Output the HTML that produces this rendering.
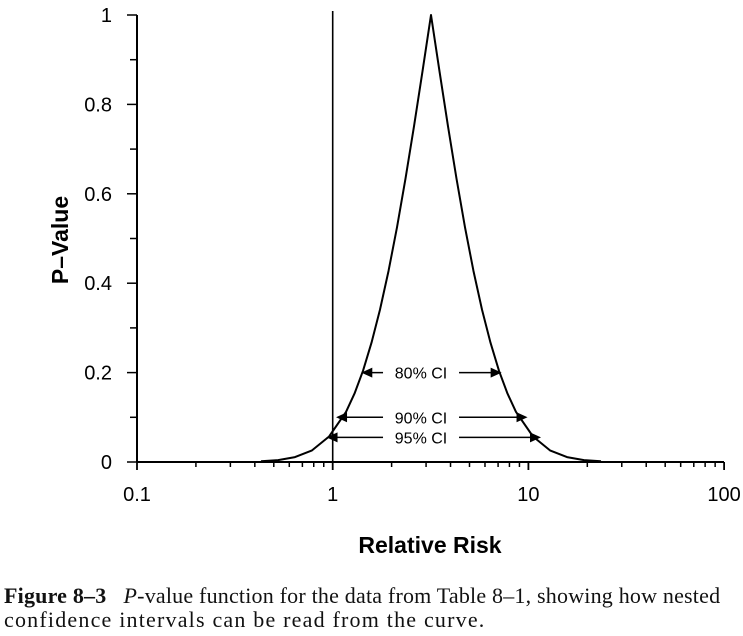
<!DOCTYPE html>
<html><head><meta charset="utf-8"><style>
body{margin:0;background:#fff;width:743px;height:636px;overflow:hidden}
svg{position:absolute;left:0;top:0}
.cap{position:absolute;left:4px;top:584px;width:740px;font-family:"Liberation Serif",serif;font-size:22px;line-height:24px;color:#111;white-space:nowrap}
.l1{letter-spacing:0.2px}
.l2{letter-spacing:1.2px}
</style></head><body>
<svg width="743" height="580" font-family="Liberation Sans, sans-serif">
<g id="axes"></g><g id="marks"></g>
</svg>
<div class="cap"><span class="l1"><b>Figure 8–3</b>&nbsp;&nbsp; <i>P</i>-value function for the data from Table 8–1, showing how nested</span><br><span class="l2">confidence intervals can be read from the curve.</span></div>
<script>
const rrValues=[0.430,0.526,0.642,0.784,0.958,1.170,1.293,1.429,1.579,1.745,1.929,2.131,2.356,2.603,2.877,3.18,3.515,3.883,4.292,4.743,5.242,5.794,6.403,7.077,7.821,8.644,10.56,12.90,15.75,19.24,23.50];
const pValues=[0.0015,0.0043,0.011,0.026,0.057,0.112,0.153,0.204,0.267,0.341,0.427,0.525,0.634,0.751,0.874,1,0.874,0.751,0.634,0.525,0.427,0.341,0.267,0.204,0.153,0.112,0.057,0.026,0.011,0.0043,0.0015];
const yTicks=[0,0.2,0.4,0.6,0.8,1];
const yTickLabels=["0","0.2","0.4","0.6","0.8","1"];
const xDecades=[0.1,1,10,100];
const xTickLabels=["0.1","1","10","100"];
const ciLabels=["80% CI","90% CI","95% CI"];
const ciP=[0.2,0.1,0.055];
const ciLow=[1.40,1.04,0.93];
const ciHigh=[7.3,9.9,11.6];
const NS="http://www.w3.org/2000/svg";
const X=v=>137+(Math.log10(v)+1)*195.7;
const Y=p=>462-p*447;
function mk(parent,tag,attrs,text){const e=document.createElementNS(NS,tag);for(const k in attrs)e.setAttribute(k,attrs[k]);if(text!==undefined)e.textContent=text;document.getElementById(parent).appendChild(e);return e;}
let e;
e=mk('axes','line',{x1:137,y1:462,x2:724,y2:462,stroke:'#000','stroke-width':2});


e=mk('axes','line',{x1:137,y1:15,x2:137,y2:462,stroke:'#000','stroke-width':2});


e=mk('axes','line',{x1:X(1),y1:11,x2:X(1),y2:462,stroke:'#000','stroke-width':1.6});


for(let d=0;d<3;d++)for(let m=2;m<10;m++){const v=xDecades[d]*m;
e=mk('axes','line',{x1:X(v),y1:462,x2:X(v),y2:467,stroke:'#000','stroke-width':1.5});

}
xDecades.forEach((v,i)=>{
e=mk('axes','line',{x1:X(v),y1:462,x2:X(v),y2:470,stroke:'#000','stroke-width':1.8});


e=mk('axes','text',{x:X(v),y:501,'font-size':20,'text-anchor':'middle'},xTickLabels[i]);

});
for(let k=0;k<=10;k++){const p=k/10;
e=mk('axes','line',{x1:k%2?130:127,y1:Y(p),x2:137,y2:Y(p),stroke:'#000','stroke-width':1.5});

}
yTicks.forEach((p,i)=>{
e=mk('axes','text',{x:112,y:Y(p)+7,'font-size':20,'text-anchor':'end'},yTickLabels[i]);

});
e=mk('axes','text',{x:430,y:553,'font-size':23,'font-weight':'bold','text-anchor':'middle'},'Relative Risk');


e=mk('axes','text',{x:0,y:0,'font-size':23,'font-weight':'bold','text-anchor':'middle',transform:'translate(68,240) rotate(-90)'},'P–Value');


e=mk('marks','path',{d:rrValues.map((r,i)=>(i?'L':'M')+X(r).toFixed(1)+','+Y(pValues[i]).toFixed(1)).join(''),fill:'none',stroke:'#000','stroke-width':2,'stroke-linejoin':'round'});


ciLabels.forEach((lab,i)=>{const y=Y(ciP[i]),x1=X(ciLow[i]),x2=X(ciHigh[i]),cx=X(3.18)-10;
e=mk('marks','line',{x1:x1+10,y1:y,x2:x2-10,y2:y,stroke:'#000','stroke-width':1.5});


e=mk('marks','path',{d:`M${x1},${y}l11,-5v10z M${x2},${y}l-11,-5v10z`,fill:'#000'});


e=mk('marks','rect',{x:cx-38,y:y-9,width:76,height:18,fill:'#fff'});


e=mk('marks','text',{x:cx,y:y+6,'font-size':16,'text-anchor':'middle'},lab);

});
</script>
</body></html>
